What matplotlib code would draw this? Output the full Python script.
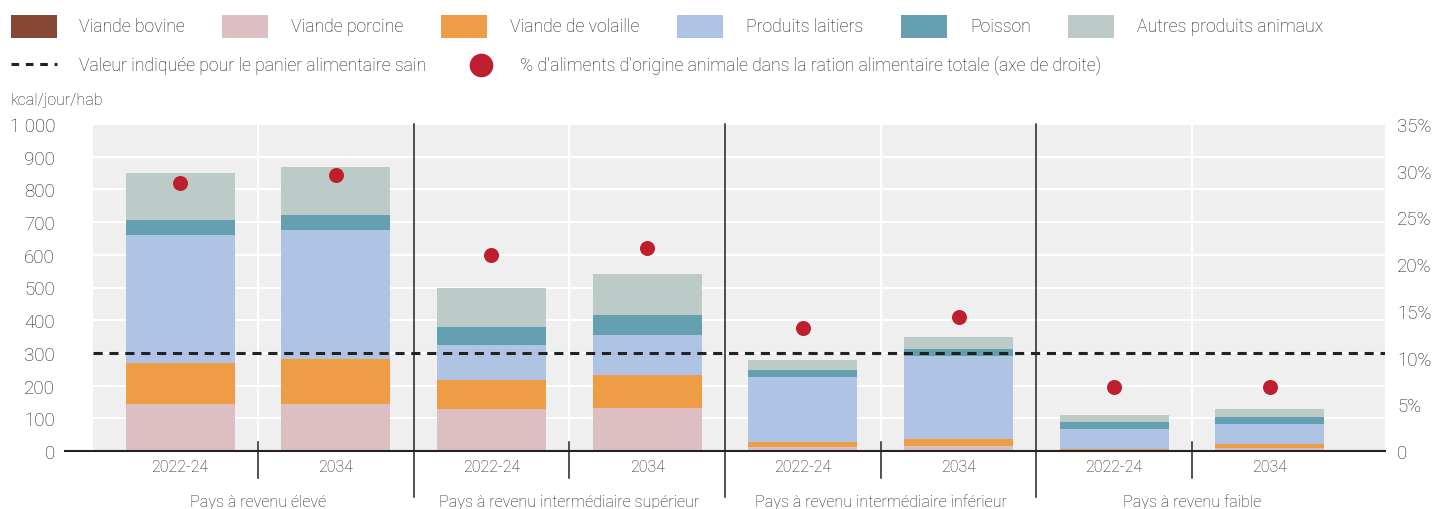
import matplotlib
matplotlib.use('Agg')
import matplotlib.pyplot as plt
from matplotlib.patches import Rectangle
from matplotlib.lines import Line2D
import numpy as np

plt.rcParams['font.family'] = ['Roboto', 'DejaVu Sans']
plt.rcParams['font.weight'] = 'light'

# data (kcal/jour/hab)
periods = ['2022-24', '2034', '2022-24', '2034', '2022-24', '2034', '2022-24', '2034']
groups = ['Pays à revenu élevé', 'Pays à revenu intermédiaire supérieur',
          'Pays à revenu intermédiaire inférieur', 'Pays à revenu faible']
bovine = [0, 0, 0, 0, 0, 0, 0, 0]
porcine = [144, 144, 128, 131, 12, 15, 4, 9]
volaille = [126, 137, 89, 101, 16, 22, 2, 12]
laitiers = [390, 395, 107, 123, 198, 253, 61, 62]
poisson = [46, 46, 55, 61, 22, 22, 22, 21]
autres = [144, 146, 119, 125, 30, 37, 21, 24]
share_animal = [28.7, 29.5, 21.0, 21.7, 13.2, 14.3, 6.85, 6.85]  # % right axis
healthy_value = 300

series = [('Viande bovine', bovine, '#884634'),
          ('Viande porcine', porcine, '#dcbec3'),
          ('Viande de volaille', volaille, '#ee9c46'),
          ('Produits laitiers', laitiers, '#afc4e4'),
          ('Poisson', poisson, '#64a0b0'),
          ('Autres produits animaux', autres, '#bccac8')]

TXT = '#1e1e1e'
RED = '#be1e2d'
W, H = 1434, 510

def px(x, y):
    return x / W, 1 - y / H

fig = plt.figure(figsize=(W / 100, H / 100), dpi=100)
ax = fig.add_axes([65 / W, (H - 452) / H, 1320 / W, 327 / H])
ax2 = ax.twinx()

x = np.arange(len(periods))
xlo, xhi = -0.739, 7.739
ax.set_xlim(xlo, xhi)
ax.set_ylim(0, 1000)
ax2.set_ylim(0, 35)

# grey panel
ax.axvspan(-0.56, xhi, color='#efefef', zorder=0, lw=0)
for yv in range(100, 1001, 100):
    ax.hlines(yv, -0.56, xhi, color='white', lw=1.5, zorder=1)
for xv in [0.5, 2.5, 4.5, 6.5]:
    ax.axvline(xv, color='white', lw=1.5, zorder=1)

bottom = np.zeros(len(periods))
for name, vals, col in series:
    ax.bar(x, vals, 0.7, bottom=bottom, color=col, lw=0, zorder=2)
    bottom += np.array(vals)

ax.hlines(healthy_value, -0.56, xhi, color='#222222', lw=2.2,
          linestyle=(0, (3, 2.2)), zorder=3)

ax2.plot(x, share_animal, 'o', color=RED, ms=10.8, mec='none', zorder=5)

# separators
for xv in [1.5, 3.5, 5.5]:
    ax.plot([xv, xv], [1.0, -0.141], transform=ax.get_xaxis_transform(),
            color='#222222', lw=1.1, clip_on=False, zorder=4)
for xv in [0.5, 2.5, 4.5, 6.5]:
    ax.plot([xv, xv], [0.0275, -0.0826], transform=ax.get_xaxis_transform(),
            color='#222222', lw=1.1, clip_on=False, zorder=4)

# spines and ticks
for s in ['top', 'right', 'left']:
    ax.spines[s].set_visible(False)
    ax2.spines[s].set_visible(False)
ax2.spines['bottom'].set_visible(False)
ax.spines['bottom'].set_color('#222222')
ax.spines['bottom'].set_linewidth(1.5)
ax.spines['bottom'].set_zorder(6)

ax.set_xticks([])
ax.set_yticks(range(0, 1001, 100))
ax.set_yticklabels([f'{v:,}'.replace(',', ' ') for v in range(0, 1001, 100)])
ax.tick_params(axis='y', length=0, pad=7.2, labelsize=13.5, labelcolor=TXT)
ax2.set_yticks(range(0, 36, 5))
ax2.set_yticklabels(['0'] + [f'{v}%' for v in range(5, 36, 5)])
ax2.tick_params(axis='y', length=0, pad=8.6, labelsize=13.5, labelcolor=TXT)

trans = ax.get_xaxis_transform()
for i, p in enumerate(periods):
    ax.text(x[i], -0.046, p, transform=trans, ha='center', va='center',
            fontsize=11.5, color=TXT)
for g, name in enumerate(groups):
    ax.text(2 * g + 0.5, -0.153, name, transform=trans, ha='center', va='center',
            fontsize=11.65, color=TXT)

fig.text(*px(11, 100), 'kcal/jour/hab', ha='left', va='center', fontsize=11.5, color=TXT)

# legend, row 1
sw_x = [11, 222, 441, 677, 901, 1068]
tx_x = [79, 291, 510, 746, 970, 1137]
for (name, vals, col), sx, tx in zip(series, sw_x, tx_x):
    fig.patches.append(Rectangle(px(sx, 39), 46 / W, 23 / H, transform=fig.transFigure,
                                 color=col, lw=0))
    fig.text(*px(tx, 27), name, ha='left', va='center', fontsize=12.7, color=TXT)

# legend, row 2
fig.lines.append(Line2D([px(11, 0)[0], px(57, 0)[0]], [px(0, 65)[1]] * 2,
                        transform=fig.transFigure, color='#222222', lw=2.2,
                        linestyle=(0, (2.5, 2.2))))
fig.text(*px(79, 66), 'Valeur indiquée pour le panier alimentaire sain',
         ha='left', va='center', fontsize=12.7, color=TXT)
fig.lines.append(Line2D([px(481, 0)[0]], [px(0, 66)[1]], transform=fig.transFigure,
                        marker='o', color=RED, ms=17, mec='none', ls='none'))
fig.text(*px(520, 66), "% d'aliments d'origine animale dans la ration alimentaire totale (axe de droite)",
         ha='left', va='center', fontsize=12.7, color=TXT)

fig.savefig('out.png', dpi=100)
